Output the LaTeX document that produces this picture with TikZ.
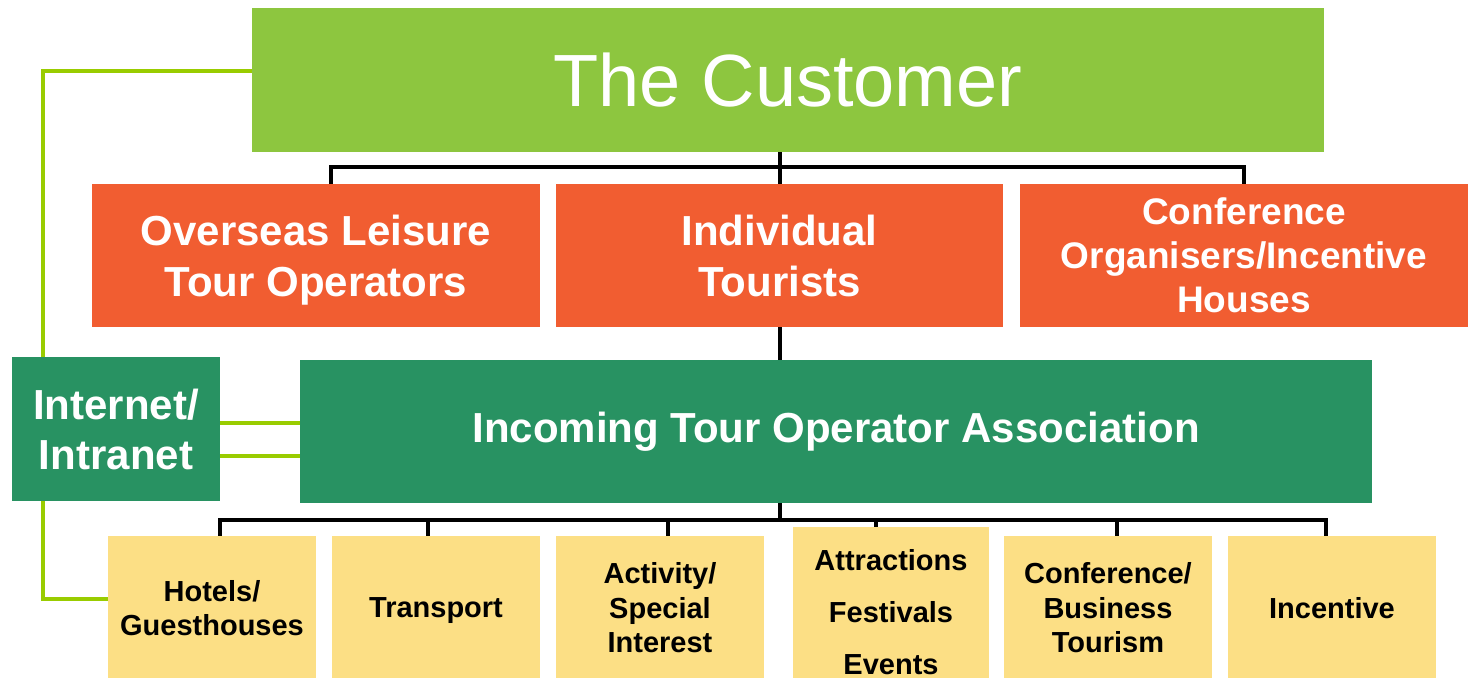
\documentclass[tikz,border=0pt]{standalone}
\usepackage{fontspec}
\setmainfont{Liberation Sans}
\definecolor{custgreen}{HTML}{8DC63F}
\definecolor{segorange}{HTML}{F15D31}
\definecolor{assocgreen}{HTML}{289262}
\definecolor{supplyyellow}{HTML}{FCDF85}
\definecolor{linklime}{HTML}{99CC00}
\tikzset{
  box/.style={rectangle, inner sep=0pt, align=center, draw=none},
  custbox/.style={box, fill=custgreen, text=white, font=\fontsize{37}{44}\selectfont},
  segbox/.style={box, fill=segorange, text=white, minimum width=224pt, minimum height=71.5pt,
    text depth=0pt, font=\fontsize{21}{25.5}\selectfont\bfseries},
  assocbox/.style={box, fill=assocgreen, text=white, minimum height=72pt,
    font=\fontsize{21}{25}\selectfont\bfseries},
  supbox/.style={box, fill=supplyyellow, text=black, minimum width=104pt, minimum height=72pt,
    font=\fontsize{14.5}{17.3}\selectfont\bfseries},
  tree/.style={draw=black, line width=1.6pt},
  link/.style={draw=linklime, line width=2pt},
}
\begin{document}
\begin{tikzpicture}[x=0.5pt, y=-0.5pt]
\useasboundingbox (0,0) rectangle (1468,678);

% top: the customer
\node[custbox, minimum width=536pt, minimum height=72pt] (cust) at (788,80) {The Customer};

% customer segments
\node[segbox] (o1) at (316,255.5) {Overseas Leisure\\Tour Operators};
\node[segbox, minimum width=223.5pt] (o2) at (779.5,255.5) {Individual\\Tourists};
\node[segbox, font=\fontsize{18.5}{22}\selectfont\bfseries] (o3) at (1244,255.5)
  {Conference\\Organisers/Incentive\\Houses};

% association and internet
\node[assocbox, minimum width=536pt, minimum height=71.5pt] (iota) at (836,431.5)
  {Incoming Tour Operator Association};
\node[assocbox, minimum width=104pt] (net) at (116,429) {Internet/\\Intranet};

% suppliers (the boxes run on below the lower edge of the page)
\node[supbox] (s1) at (212,608) {Hotels/\\Guesthouses};
\node[supbox, text depth=0pt] (s2) at (436,608) {Transport};
\node[supbox] (s3) at (660,608) {Activity/\\Special\\Interest};
\node[supbox, minimum width=98pt, minimum height=85pt,
  font=\fontsize{14.5}{26}\selectfont\bfseries] (s4) at (891,612)
  {Attractions\\Festivals\\Events};
\node[supbox] (s5) at (1108,608) {Conference/\\Business\\Tourism};
\node[supbox] (s6) at (1332,608) {Incentive};

% upper tree
\coordinate (ta) at (331,167);
\coordinate (tb) at (780,167);
\coordinate (tc) at (1244,167);
\draw[tree] (cust.south -| tb) -- (o2.north -| tb);
\draw[tree] (o1.north -| ta) -- (ta) -- (tc) -- (o3.north -| tc);
\draw[tree] (o2.south -| tb) -- (iota.north -| tb);

% lower tree
\coordinate (ba) at (220,520);
\coordinate (bb) at (428,520);
\coordinate (bc) at (668,520);
\coordinate (bd) at (876,520);
\coordinate (be) at (1117,520);
\coordinate (bf) at (1326,520);
\coordinate (bm) at (780,520);
\draw[tree] (iota.south -| bm) -- (bm);
\draw[tree] (s1.north -| ba) -- (ba) -- (bf) -- (s6.north -| bf);
\draw[tree] (bb) -- (s2.north -| bb);
\draw[tree] (bc) -- (s3.north -| bc);
\draw[tree] (bd) -- (s4.north -| bd);
\draw[tree] (be) -- (s5.north -| be);

% internet links
\coordinate (la) at (43,71);
\coordinate (lb) at (43,599);
\draw[link] (cust.west |- la) -- (la) -- (net.north -| la);
\draw[link] (net.south -| lb) -- (lb) -- (s1.west |- lb);
\coordinate (ma) at (0,423);
\coordinate (mb) at (0,456);
\draw[link] (net.east |- ma) -- (iota.west |- ma);
\draw[link] (net.east |- mb) -- (iota.west |- mb);
\end{tikzpicture}
\end{document}
